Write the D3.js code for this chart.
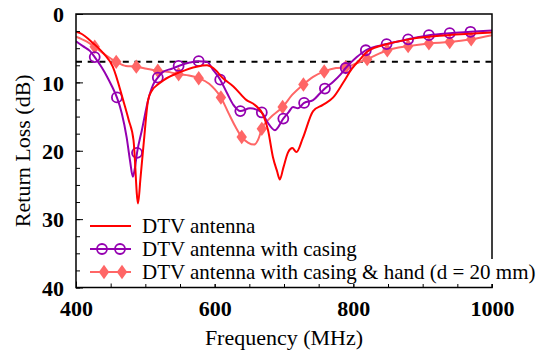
<!DOCTYPE html>
<html><head><meta charset="utf-8">
<script src="https://cdn.jsdelivr.net/npm/d3@7"></script>
<style>body{margin:0;background:#fff;}</style>
</head><body>
<svg id="c" width="548" height="355"></svg>
<script>
// ---- data ----
const xMajorTicks = [400, 600, 800, 1000];
const yMajorTicks = [0, 10, 20, 30, 40];
const thresholdDb = 7;

const redFreq = [400,406,425,440,453,468,476,483,489.5,493,498,504,510,517,526,550,574,589,598,612,627,646,658,670,677,684,690,694,699,706,712,718,727,742,756,771,785,798,810,820,853,886,935,1000];
const redDb   = [2.6,2.8,4.3,5.8,7.7,12.6,15.5,18.5,27.7,24,18.5,12.6,11.1,10.4,9.7,8.5,7.7,7.5,7.9,9.4,10.6,12.6,13.3,14.8,17,20.9,23,24.2,22.5,20.2,19.6,20.2,18.2,14.2,13.3,12.2,10.1,8.0,6.6,5.5,4.3,3.6,3.1,2.7];

const purpleFreq = [400,410,420,427,437,445,452,459,466,473,478,482,485,488,495,504,511,518,525,538,548,564,577,589,598,608,618,627,637,651,668,676,687,699,707,713,720,729,742,752,759,771,781,789,805,818,848,879,909,939,969,1000];
const purpleDb   = [4.0,4.7,5.4,6.3,7.8,9.2,10.6,12.2,14.5,18.0,21.5,23.8,22.5,20.3,17,12.6,10.4,9.3,8.5,8.0,7.6,7.1,6.9,7.0,8.2,9.6,11.6,13.3,14.2,13.8,14.4,15.8,17.0,15.3,14.3,13.6,13.8,13.0,12.6,11.6,10.9,9.9,8.9,7.9,6.3,5.3,4.4,3.7,3.1,2.8,2.6,2.4];
const purpleMarkFreq = [427,459,488,518,548,577,608,637,668,699,729,759,789,818,848,879,909,939,969];
const purpleMarkDb   = [6.3,12.2,20.3,9.3,7.6,6.9,9.6,14.2,14.4,15.3,13.0,10.9,7.9,5.3,4.4,3.7,3.1,2.8,2.6];

const pinkFreq = [400,415,427,440,458,472,487,502,518,535,548,563,577,592,600,609,620,630,639,648,657,663,668,680,698,712,728,742,758,775,789,805,820,849,879,909,939,970,1000];
const pinkDb   = [3.3,4.0,4.8,5.8,7.0,7.6,7.7,8.0,8.3,8.5,8.8,9.0,9.4,10.2,11.0,12.2,14.5,16.5,18.0,18.8,19.1,18.3,16.8,15.2,13.6,11.8,10.3,9.2,8.4,7.9,7.8,7.2,6.6,5.3,4.7,4.3,4.1,3.7,3.1];
const pinkMarkFreq = [427,458,487,518,548,577,609,639,668,698,728,758,789,820,849,879,909,939,970];
const pinkMarkDb   = [4.8,7.0,7.7,8.3,8.8,9.4,12.2,18.0,16.8,13.6,10.3,8.4,7.8,6.6,5.3,4.7,4.3,4.1,3.7];

const legendLabels = ["DTV antenna","DTV antenna with casing","DTV antenna with casing & hand (d = 20 mm)"];
const colors = ["#ff0000","#9400b0","#ff6666"];

// ---- layout ----
const L = 76, R = 492, T = 14, B = 287.5;
const svg = d3.select("#c");
const x = d3.scaleLinear().domain([400,1000]).range([L,R]);
const y = d3.scaleLinear().domain([0,40]).range([T,B]);
const FONT = "'Liberation Serif'";

function txt(sel, size, bold){
  return sel.style("font-family", FONT).style("font-size", size + "px").style("font-weight", bold ? "bold" : "normal").attr("fill","#000");
}

svg.append("clipPath").attr("id","pc").append("rect")
  .attr("x",L).attr("y",T).attr("width",R-L).attr("height",B-T);

// dashed threshold
svg.append("line").attr("x1",x(400)).attr("x2",x(1000)).attr("y1",y(thresholdDb)).attr("y2",y(thresholdDb))
  .attr("stroke","#000").attr("stroke-width",2).attr("stroke-dasharray","6,5.7");

const line = d3.line().x(d=>x(d[0])).y(d=>y(d[1])).curve(d3.curveMonotoneX);
const zip = (a,b)=>a.map((v,i)=>[v,b[i]]);
const g = svg.append("g").attr("clip-path","url(#pc)");

g.append("path").datum(zip(pinkFreq,pinkDb)).attr("d",line).attr("fill","none").attr("stroke",colors[2]).attr("stroke-width",2);
const diamond = d3.symbol().type(d3.symbolDiamond).size(60);
g.selectAll(".pm").data(zip(pinkMarkFreq,pinkMarkDb)).join("path")
  .attr("d",diamond).attr("transform",d=>`translate(${x(d[0])},${y(d[1])}) scale(1.25,1)`).attr("fill",colors[2]);

g.append("path").datum(zip(purpleFreq,purpleDb)).attr("d",line).attr("fill","none").attr("stroke",colors[1]).attr("stroke-width",2);
g.selectAll(".cm").data(zip(purpleMarkFreq,purpleMarkDb)).join("circle")
  .attr("cx",d=>x(d[0])).attr("cy",d=>y(d[1])).attr("r",5).attr("fill","none").attr("stroke",colors[1]).attr("stroke-width",1.8);

g.append("path").datum(zip(redFreq,redDb)).attr("d",line).attr("fill","none").attr("stroke",colors[0]).attr("stroke-width",2);

// axes
const xMinor = d3.range(400,1001,50);
const yMinor = d3.range(0,40.01,2.5);
const ax = svg.append("g").attr("transform",`translate(0,${B})`)
  .call(d3.axisBottom(x).tickValues(xMinor).tickSize(-4).tickFormat(""));
const ax2 = svg.append("g").attr("transform",`translate(0,${B})`)
  .call(d3.axisBottom(x).tickValues(xMajorTicks).tickSize(-6).tickPadding(13).tickFormat(d3.format("d")));
const ay = svg.append("g").attr("transform",`translate(${L},0)`)
  .call(d3.axisLeft(y).tickValues(yMinor).tickSize(-4).tickFormat(""));
const ay2 = svg.append("g").attr("transform",`translate(${L},0)`)
  .call(d3.axisLeft(y).tickValues(yMajorTicks).tickSize(-7).tickPadding(12).tickFormat(d3.format("d")));
[ax,ax2,ay,ay2].forEach(a=>{
  a.attr("font-family",null).attr("font-size",null);
  a.selectAll(".domain").remove();
  a.selectAll("line").attr("stroke","#000").attr("stroke-width",1);
  txt(a.selectAll("text"), 22, true);
});
ax2.selectAll("text").attr("dy","0.71em");
ay2.selectAll("text").attr("dy","0.35em");

// frame
svg.append("rect").attr("x",L).attr("y",T).attr("width",R-L).attr("height",B-T)
  .attr("fill","none").attr("stroke","#000").attr("stroke-width",1.5);

// legend
const lg = svg.append("g");
lg.append("rect").attr("x",140).attr("y",259).attr("width",406).attr("height",25).attr("fill","#fff");
const rowsY = [226,249,272];
legendLabels.forEach((t,i)=>{
  const yy = rowsY[i];
  lg.append("line").attr("x1",90).attr("x2",131).attr("y1",yy).attr("y2",yy).attr("stroke",colors[i]).attr("stroke-width",2);
  txt(lg.append("text").attr("x",142).attr("y",yy).attr("dy","0.33em"), 21, false).text(t);
});
[102,120].forEach(cx=>{
  lg.append("circle").attr("cx",cx).attr("cy",rowsY[1]).attr("r",5).attr("fill","none").attr("stroke",colors[1]).attr("stroke-width",1.8);
  lg.append("path").attr("d",diamond).attr("transform",`translate(${cx+2},${rowsY[2]}) scale(1.25,1)`).attr("fill",colors[2]);
});

// titles
txt(svg.append("text").attr("x",(L+R)/2).attr("y",345).attr("text-anchor","middle"), 22, false).text("Frequency (MHz)");
txt(svg.append("text").attr("transform",`translate(30,${(T+B)/2}) rotate(-90)`).attr("text-anchor","middle"), 22, false).text("Return Loss (dB)");
</script>
</body></html>
